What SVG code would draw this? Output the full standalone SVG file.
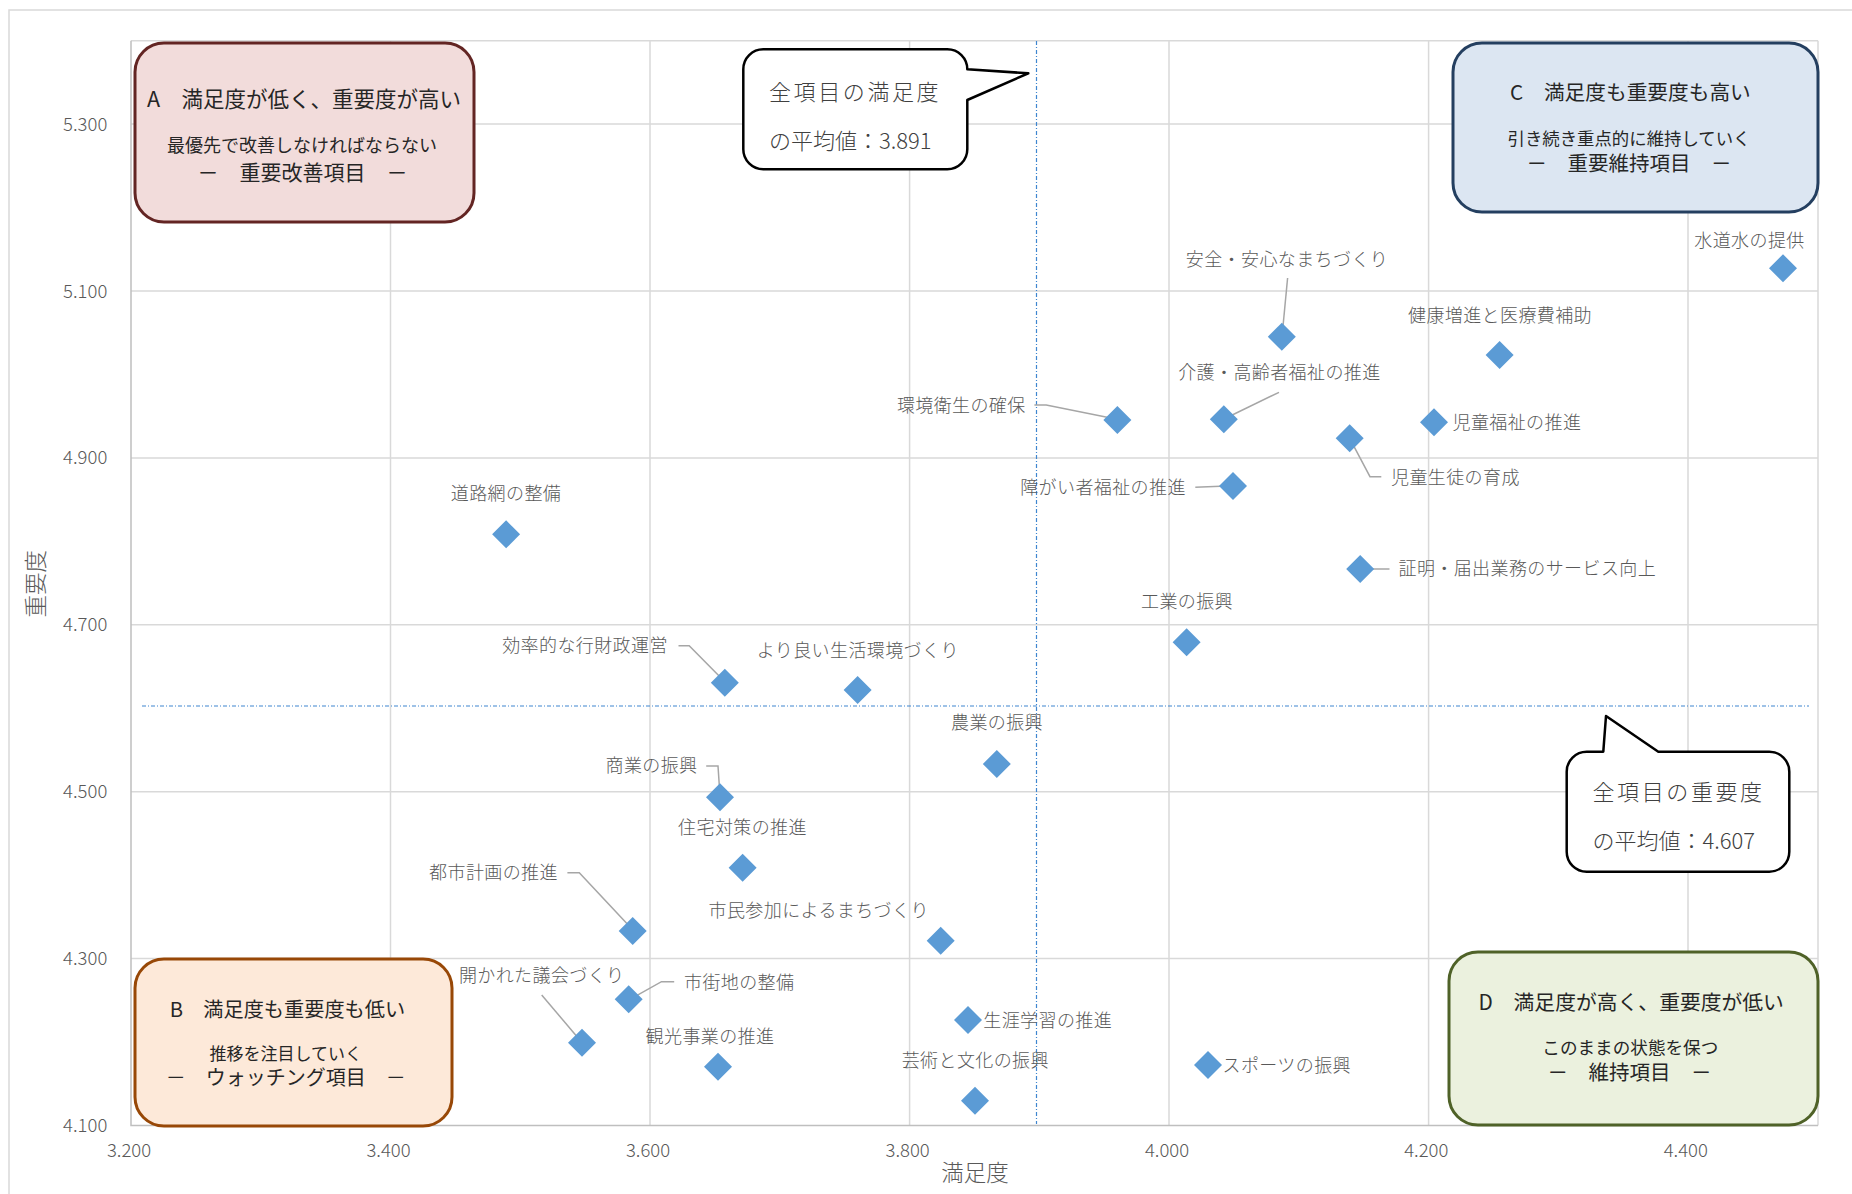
<svg xmlns="http://www.w3.org/2000/svg" xmlns:xlink="http://www.w3.org/1999/xlink" width="1852" height="1194" viewBox="0 0 1852 1194">
<style>
text { font-family: "Noto Sans CJK JP", "Noto Sans", sans-serif; }
.grid { stroke:#d9d9d9; stroke-width:1.5; fill:none; }
.axis { stroke:#bfbfbf; stroke-width:1.5; fill:none; }
.tick { font-size:18.5px; fill:#595959; font-weight:300; }
.ttl { font-size:22.5px; fill:#595959; font-weight:300; }
.lbl { font-size:18px; fill:#595959; letter-spacing:0.4px; font-weight:300; }
.lead { stroke:#a6a6a6; stroke-width:1.5; fill:none; }
.mean { stroke:#3f86d0; stroke-width:1.2; stroke-dasharray:4 2 1 2; fill:none; }
.pt { fill:#5b9bd5; }
.qbox text { fill:#262626; text-anchor:middle; }
.callout path { fill:#ffffff; stroke:#000000; stroke-width:2.5; stroke-linejoin:round; }
.callout text { fill:#404040; font-size:22px; font-weight:300; }
.mid { text-anchor:middle; }
.end { text-anchor:end; }
</style>
<defs>
<path id="dia" d="M0,-14 L14,0 L0,14 L-14,0 Z"/>
</defs>
<rect x="0" y="0" width="1852" height="1194" fill="#ffffff"/>
<rect x="9" y="10" width="2000" height="2000" fill="none" stroke="#d9d9d9" stroke-width="1.5"/>

<g id="gridlines">
<path class="grid" d="M131,40.7 H1818 M131,124.1 H1818 M131,291 H1818 M131,457.9 H1818 M131,624.8 H1818 M131,791.7 H1818 M131,958.6 H1818"/>
<path class="grid" d="M390.5,40.7 V1125.5 M650,40.7 V1125.5 M909.6,40.7 V1125.5 M1169,40.7 V1125.5 M1428.6,40.7 V1125.5 M1688,40.7 V1125.5 M1818,40.7 V1125.5"/>
<path class="axis" d="M131,40.7 V1125.5 H1818"/>
</g>

<g id="axis-labels">
<text class="tick end" x="107.3" y="130.7">5.300</text>
<text class="tick end" x="107.3" y="297.5">5.100</text>
<text class="tick end" x="107.3" y="464.4">4.900</text>
<text class="tick end" x="107.3" y="631.3">4.700</text>
<text class="tick end" x="107.3" y="798.2">4.500</text>
<text class="tick end" x="107.3" y="965.1">4.300</text>
<text class="tick end" x="107.3" y="1132">4.100</text>
<text class="tick mid" x="129" y="1156.5">3.200</text>
<text class="tick mid" x="388.5" y="1156.5">3.400</text>
<text class="tick mid" x="648" y="1156.5">3.600</text>
<text class="tick mid" x="907.6" y="1156.5">3.800</text>
<text class="tick mid" x="1167" y="1156.5">4.000</text>
<text class="tick mid" x="1426.3" y="1156.5">4.200</text>
<text class="tick mid" x="1685.8" y="1156.5">4.400</text>
<text class="ttl mid" x="975" y="1181">満足度</text>
<text class="ttl mid" transform="translate(43.5,583.8) rotate(-90)">重要度</text>
</g>

<g id="mean-lines">
<line class="mean" x1="1036.5" y1="41" x2="1036.5" y2="1124"/>
<line class="mean" x1="142" y1="706" x2="1809" y2="706"/>
</g>

<g id="connectors">
<path class="lead" d="M1287.6,278 L1282,336.7"/>
<path class="lead" d="M1279,392.3 L1224,419"/>
<path class="lead" d="M1349.7,438.3 L1370,476.7 H1381.3"/>
<path class="lead" d="M1034.4,405 H1046.2 L1117,419.3"/>
<path class="lead" d="M1195.3,487.3 L1233,485.7"/>
<path class="lead" d="M1360,569 H1389.5"/>
<path class="lead" d="M678.5,645.7 H689.2 L724.8,681.7"/>
<path class="lead" d="M706.2,766 H718 L720,796"/>
<path class="lead" d="M567.4,872.7 H579.3 L632,929"/>
<path class="lead" d="M541.7,995 L581.3,1041.7"/>
<path class="lead" d="M629.9,999.3 L661.5,981.7 H674.2"/>
</g>

<g id="p01"><use xlink:href="#dia" class="pt" x="1783" y="268.3"/><text class="lbl mid" x="1749.5" y="247">水道水の提供</text></g>
<g id="p02"><use xlink:href="#dia" class="pt" x="1281.8" y="336.7"/><text class="lbl mid" x="1287" y="265.5">安全・安心なまちづくり</text></g>
<g id="p03"><use xlink:href="#dia" class="pt" x="1499.6" y="355"/><text class="lbl mid" x="1500" y="322">健康増進と医療費補助</text></g>
<g id="p04"><use xlink:href="#dia" class="pt" x="1223.8" y="419.3"/><text class="lbl mid" x="1279.4" y="379">介護・高齢者福祉の推進</text></g>
<g id="p05"><use xlink:href="#dia" class="pt" x="1434" y="422.3"/><text class="lbl" x="1452.5" y="428.5">児童福祉の推進</text></g>
<g id="p06"><use xlink:href="#dia" class="pt" x="1349.7" y="438.3"/><text class="lbl" x="1391" y="483.5">児童生徒の育成</text></g>
<g id="p07"><use xlink:href="#dia" class="pt" x="1117.4" y="420"/><text class="lbl end" x="1025.7" y="412">環境衛生の確保</text></g>
<g id="p08"><use xlink:href="#dia" class="pt" x="1233" y="486"/><text class="lbl end" x="1185.8" y="493.5">障がい者福祉の推進</text></g>
<g id="p09"><use xlink:href="#dia" class="pt" x="506.1" y="534.3"/><text class="lbl mid" x="506" y="500">道路網の整備</text></g>
<g id="p10"><use xlink:href="#dia" class="pt" x="1360.2" y="569"/><text class="lbl" x="1398.5" y="575">証明・届出業務のサービス向上</text></g>
<g id="p11"><use xlink:href="#dia" class="pt" x="1186.6" y="642.3"/><text class="lbl mid" x="1187" y="607.5">工業の振興</text></g>
<g id="p12"><use xlink:href="#dia" class="pt" x="724.8" y="682.7"/><text class="lbl end" x="667.8" y="652">効率的な行財政運営</text></g>
<g id="p13"><use xlink:href="#dia" class="pt" x="857.6" y="690"/><text class="lbl mid" x="857.8" y="657">より良い生活環境づくり</text></g>
<g id="p14"><use xlink:href="#dia" class="pt" x="996.8" y="764"/><text class="lbl mid" x="997" y="728.5">農業の振興</text></g>
<g id="p15"><use xlink:href="#dia" class="pt" x="720" y="797.3"/><text class="lbl end" x="697.5" y="771.5">商業の振興</text></g>
<g id="p16"><use xlink:href="#dia" class="pt" x="742.6" y="867.7"/><text class="lbl mid" x="742.5" y="833.5">住宅対策の推進</text></g>
<g id="p17"><use xlink:href="#dia" class="pt" x="632.7" y="931"/><text class="lbl end" x="557.9" y="878.5">都市計画の推進</text></g>
<g id="p18"><use xlink:href="#dia" class="pt" x="940.7" y="940.7"/><text class="lbl mid" x="818.7" y="917">市民参加によるまちづくり</text></g>
<g id="p19"><use xlink:href="#dia" class="pt" x="582" y="1042.7"/><text class="lbl mid" x="541.7" y="982">開かれた議会づくり</text></g>
<g id="p20"><use xlink:href="#dia" class="pt" x="628.7" y="999.3"/><text class="lbl" x="684" y="988.5">市街地の整備</text></g>
<g id="p21"><use xlink:href="#dia" class="pt" x="968" y="1020"/><text class="lbl" x="983.3" y="1026.5">生涯学習の推進</text></g>
<g id="p22"><use xlink:href="#dia" class="pt" x="718" y="1066.7"/><text class="lbl mid" x="710" y="1042.5">観光事業の推進</text></g>
<g id="p23"><use xlink:href="#dia" class="pt" x="975" y="1100.7"/><text class="lbl mid" x="975.3" y="1066.5">芸術と文化の振興</text></g>
<g id="p24"><use xlink:href="#dia" class="pt" x="1208" y="1065"/><text class="lbl" x="1222.5" y="1072">スポーツの振興</text></g>

<g id="box-a" class="qbox">
<rect x="135" y="43" width="339" height="179" rx="29" fill="#f2dcdb" stroke="#632523" stroke-width="3"/>
<text x="304" y="107" font-size="21.5">A　満足度が低く、重要度が高い</text>
<text x="302" y="152" font-size="18">最優先で改善しなければならない</text>
<text x="302.5" y="180" font-size="21">－　重要改善項目　－</text>
</g>
<g id="box-b" class="qbox">
<rect x="135" y="959" width="317" height="167" rx="29" fill="#fde9d9" stroke="#984807" stroke-width="3"/>
<text x="287.5" y="1017" font-size="20.2">B　満足度も重要度も低い</text>
<text x="285.7" y="1060" font-size="17">推移を注目していく</text>
<text x="285.7" y="1085" font-size="20">－　ウォッチング項目　－</text>
</g>
<g id="box-c" class="qbox">
<rect x="1453" y="43" width="365" height="169" rx="29" fill="#dce6f2" stroke="#243f60" stroke-width="3"/>
<text x="1630.4" y="100" font-size="20.7">C　満足度も重要度も高い</text>
<text x="1629" y="144.5" font-size="17.4">引き続き重点的に維持していく</text>
<text x="1629" y="171" font-size="20.5">－　重要維持項目　－</text>
</g>
<g id="box-d" class="qbox">
<rect x="1449" y="952" width="369" height="173" rx="29" fill="#ebf1de" stroke="#4f6228" stroke-width="3"/>
<text x="1631.2" y="1010" font-size="20.8">D　満足度が高く、重要度が低い</text>
<text x="1630.3" y="1053.5" font-size="17.6">このままの状態を保つ</text>
<text x="1629.4" y="1080" font-size="20.5">－　維持項目　－</text>
</g>

<g id="callout-satisfaction" class="callout">
<path d="M766.3,49.3 H947.3 A20,20 0 0 1 967.3,69.3 L1028.3,73.3 L967.3,100 V149.3 A20,20 0 0 1 947.3,169.3 H763.3 A20,20 0 0 1 743.3,149.3 V69.3 A20,20 0 0 1 763.3,49.3 Z"/>
<text x="769" y="99.5" letter-spacing="2.6">全項目の満足度</text>
<text x="769" y="149">の平均値：3.891</text>
</g>
<g id="callout-importance" class="callout">
<path d="M1586.7,751.7 H1603.3 L1606,716 L1658.3,751.7 H1769.3 A20,20 0 0 1 1789.3,771.7 V851.7 A20,20 0 0 1 1769.3,871.7 H1586.7 A20,20 0 0 1 1566.7,851.7 V771.7 A20,20 0 0 1 1586.7,751.7 Z"/>
<text x="1592.5" y="799.5" letter-spacing="2.6">全項目の重要度</text>
<text x="1592.5" y="849">の平均値：4.607</text>
</g>
</svg>
